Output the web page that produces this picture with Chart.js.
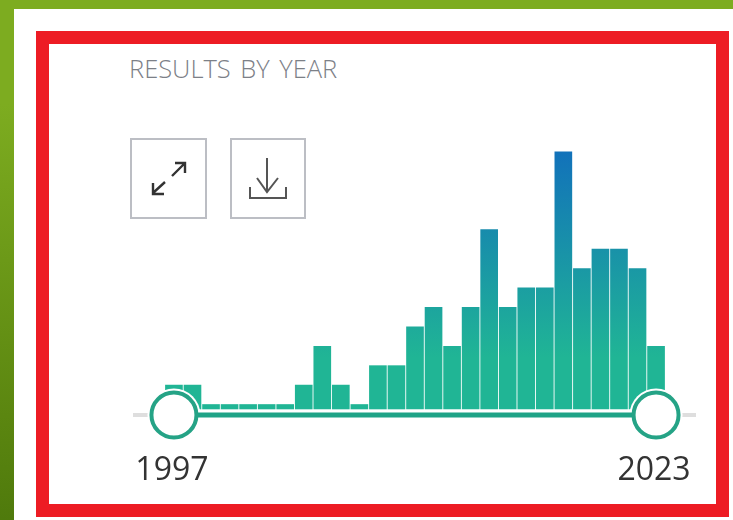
<!DOCTYPE html>
<html>
<head>
<meta charset="utf-8">
<script src="https://cdn.jsdelivr.net/npm/chart.js@4"></script>
<style>
  html, body { margin: 0; padding: 0; }
  body {
    position: relative;
    width: 733px;
    height: 520px;
    overflow: hidden;
    background: linear-gradient(to bottom, #7dac20 0%, #7dac20 20%, #5b8610 80%, #4f7a0c 100%);
  }
  .panel { position: absolute; left: 14px; top: 9px; width: 719px; height: 511px; background: #fff; }
  .frame { position: absolute; left: 36px; top: 31px; width: 667px; height: 460px; border: 13px solid #ed1c24; }
  .title {
    position: absolute; left: 129px; top: 50px;
    font: 300 26px "Open Sans", sans-serif; color: #7c8087; word-spacing: 3px;
    transform: scaleX(0.98); transform-origin: left top; white-space: nowrap;
  }
  .btn {
    position: absolute; top: 138px; height: 77px;
    border: 2px solid #bcbec4; background: #fff;
  }
  .btn svg { position: absolute; left: 0; top: 0; }
  #chartWrap { position: absolute; left: 0; top: 0; width: 733px; height: 520px; }
</style>
</head>
<body>
<div class="panel"></div>
<div class="frame"></div>
<div class="title">RESULTS BY YEAR</div>
<div class="btn" style="left:130px;width:73px">
  <svg width="73" height="77" fill="none" stroke="#333" stroke-width="2.4">
    <path d="M40 36 L52 24 M43 23 H53 V33"/>
    <path d="M33 42 L21 53 M21 43 V54 H32"/>
  </svg>
</div>
<div class="btn" style="left:230px;width:72px">
  <svg width="72" height="77" fill="none" stroke="#555" stroke-width="2">
    <path d="M35 18 V52 M25 38 L35 52 L46 38"/>
    <path d="M18 47 V58 H54 V47"/>
  </svg>
</div>
<div id="chartWrap"><canvas id="myChart"></canvas></div>
<script>
const years = [1997, 1998, 1999, 2000, 2001, 2002, 2003, 2004, 2005, 2006, 2007, 2008, 2009, 2010,
  2011, 2012, 2013, 2014, 2015, 2016, 2017, 2018, 2019, 2020, 2021, 2022, 2023];
const counts = [1, 1, 0, 0, 0, 0, 0, 1, 3, 1, 0, 2, 2, 4, 5, 3, 5, 9, 5, 6, 6, 13, 7, 8, 8, 7, 3];
const tickYears = [1997, 2023];
const sliderLevel = -0.54;

// zero years still show a thin stub, so the bars start a bit below 0
const barBase = -0.23;

const barGradient = (ctx) => {
  const { chart } = ctx;
  if (!chart.chartArea) return '#20b595';
  const y = chart.scales.y;
  const g = chart.ctx.createLinearGradient(0, y.getPixelForValue(barBase), 0, y.getPixelForValue(13));
  g.addColorStop(0, '#20b595');
  g.addColorStop(0.2, '#20b595');
  g.addColorStop(1, '#1272ba');
  return g;
};

const sliderPoints = tickYears.map((year) => ({ x: year, y: sliderLevel }));

new Chart(document.getElementById('myChart'), {
  data: {
    datasets: [
      {
        type: 'line',
        data: sliderPoints,
        borderColor: '#1fa387',
        borderWidth: 5,
        pointRadius: 22.5,
        pointBorderWidth: 4,
        pointBackgroundColor: '#fff',
        pointBorderColor: '#25a386',
        clip: false,
        order: 1
      },
      {
        // white ring that cuts the bars around the handles
        type: 'line',
        data: sliderPoints,
        showLine: false,
        pointRadius: 26.5,
        pointBorderWidth: 0,
        pointBackgroundColor: '#fff',
        clip: false,
        order: 2
      },
      {
        type: 'bar',
        data: years.map((year, i) => ({ x: year, y: counts[i] })),
        base: barBase,
        backgroundColor: barGradient,
        barThickness: 17,
        order: 3
      }
    ]
  },
  options: {
    responsive: true,
    maintainAspectRatio: false,
    animation: false,
    layout: { padding: { left: 135, right: 38, top: 150, bottom: 0 } },
    plugins: { legend: { display: false }, tooltip: { enabled: false }, title: { display: false } },
    scales: {
      x: {
        type: 'linear',
        offset: false,
        min: 1994.9,
        max: 2025.1,
        grid: { display: false, drawTicks: false },
        border: { color: '#dedede', width: 4 },
        afterBuildTicks: (scale) => { scale.ticks = tickYears.map((value) => ({ value })); },
        afterFit: (scale) => { scale.height = 105; },
        ticks: {
          autoSkip: false,
          maxRotation: 0,
          padding: 37,
          labelOffset: -2,
          color: '#333',
          font: { family: '"Open Sans", sans-serif', size: 32 },
          callback: (value) => String(value)
        }
      },
      y: {
        display: false,
        min: sliderLevel,
        max: 13.1
      }
    }
  }
});
</script>
</body>
</html>
